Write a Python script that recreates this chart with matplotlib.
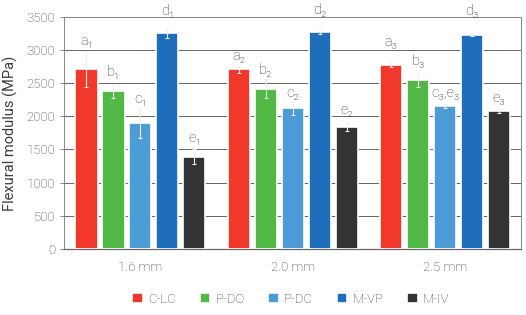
import numpy as np
import matplotlib
matplotlib.use('Agg')
import matplotlib.pyplot as plt

plt.rcParams['font.family'] = ['Roboto', 'DejaVu Sans']
plt.rcParams['font.weight'] = 'light'

groups = ['1.6 mm', '2.0 mm', '2.5 mm']
series = ['C-LC', 'P-DO', 'P-DC', 'M-VP', 'M-IV']
colors = ['#F2382A', '#52B947', '#4C9CD6', '#1F6EBB', '#333335']

# flexural modulus (MPa), rows = series, cols = groups
values = [
    [2710, 2710, 2775],
    [2380, 2420, 2550],
    [1900, 2120, 2150],
    [3260, 3270, 3225],
    [1390, 1835, 2080],
]
errors = [
    [270, 50, 30],
    [110, 150, 110],
    [230, 100, 30],
    [80, 20, 15],
    [110, 60, 30],
]

# significance letters and where they sit
letters = [
    ['a₁', 'a₂', 'a₃'],
    ['b₁', 'b₂', 'b₃'],
    ['c₁', 'c₂', 'c₃,e₃'],
    ['d₁', 'd₂', 'd₃'],
    ['e₁', 'e₂', 'e₃'],
]
letter_y = [
    [3140, 2910, 3120],
    [2670, 2700, 2840],
    [2260, 2360, 2360],
    [3590, 3600, 3595],
    [1680, 2100, 2275],
]

fig = plt.figure(figsize=(5.26, 3.15), dpi=100)
ax = fig.add_axes([0.122, 0.21, 0.869, 0.736])

x = np.arange(len(groups))
step = 0.177
width = 0.146
txt = '#3c3c3c'

for i, name in enumerate(series):
    pos = x + (i - 2) * step
    ax.bar(pos, values[i], width, color=colors[i], edgecolor='white',
           linewidth=1.2, label=name, zorder=3)
    ax.errorbar(pos, values[i], yerr=errors[i], fmt='none', ecolor='#f0f0f0',
                elinewidth=0.8, capsize=1.5, capthick=0.8, zorder=4)
    for j in range(len(groups)):
        ax.text(pos[j], letter_y[i][j], letters[i][j], ha='center', va='center',
                fontsize=10.5, color=txt, zorder=5, clip_on=False)

ax.set_xlim(-0.5, 2.5)
ax.set_ylim(0, 3500)
ax.set_yticks(np.arange(0, 3501, 500))
ax.set_xticks(x)
ax.set_xticklabels(groups)
ax.tick_params(axis='x', length=0, pad=9, labelsize=9.5, colors=txt)
ax.tick_params(axis='y', length=3, width=0.6, labelsize=9.5, colors=txt, color='#777777')
ax.yaxis.grid(True, color='#666666', linewidth=0.7, zorder=0)
ax.set_axisbelow(True)
for s in ['top', 'right', 'left']:
    ax.spines[s].set_color('#888888')
    ax.spines[s].set_linewidth(0.7)
ax.spines['bottom'].set_color('#666666')
ax.spines['bottom'].set_linewidth(0.9)

ax.set_ylabel('Flexural modulus (MPa)', fontsize=10.5, color=txt, labelpad=6)

handles, labels = ax.get_legend_handles_labels()
fig.legend(handles, labels, loc='center', bbox_to_anchor=(0.553, 0.05), ncol=5,
           frameon=False, fontsize=9.5, handlelength=0.8, handleheight=0.8,
           handletextpad=0.4, columnspacing=1.8, labelcolor=txt)

fig.savefig('out.png', dpi=100)
